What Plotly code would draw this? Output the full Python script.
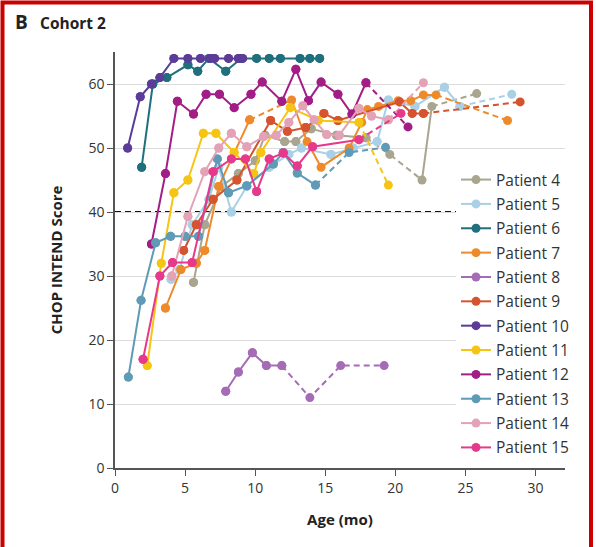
import plotly.graph_objects as go

# ---------------- data ----------------
patients = ["Patient 4", "Patient 5", "Patient 6", "Patient 7", "Patient 8", "Patient 9",
            "Patient 10", "Patient 11", "Patient 12", "Patient 13", "Patient 14", "Patient 15"]
colors = ["#a9a58f", "#a8d0e6", "#1f6f7d", "#ef8a2b", "#a56bb6", "#d5532f",
          "#5b3c98", "#f6c514", "#a21d86", "#5f9bb6", "#e4a2b6", "#e6398c"]

p4_x = [5.6, 6.4, 7.6, 8.8, 10.0, 10.7, 12.1, 12.9, 14.0, 15.8, 17.9, 19.6, 21.9, 22.6, 25.8]
p4_y = [29, 38, 44, 46, 48, 52, 51, 51, 53, 52, 51.6, 49, 45, 56.5, 58.5]
p4_dash = [10, 11, 13]

p5_x = [4.0, 4.6, 5.5, 6.7, 7.4, 8.3, 9.4, 11.0, 12.4, 13.3, 15.4, 17.0, 18.7, 19.5, 21.4, 23.5, 24.6, 28.3]
p5_y = [29.5, 31, 38, 42, 47, 40, 44, 47, 49, 50, 49, 50, 51, 57.5, 56.5, 59.5, 56.5, 58.4]
p5_dash = [16]

p6_x = [1.9, 2.7, 3.7, 5.2, 5.9, 6.7, 7.9, 9.0, 10.1, 11.0, 11.8, 13.2, 13.9, 14.6]
p6_y = [47, 60, 61, 63, 62, 64, 62, 64, 64, 64, 64, 64, 64, 64]
p6_dash = []

p7_x = [3.6, 4.7, 5.8, 6.4, 7.4, 9.6, 12.6, 13.7, 14.7, 16.7, 17.6, 18.0, 18.8, 20.2, 21.1, 22.0, 22.9, 28.0]
p7_y = [25, 31, 32, 34, 44, 54.4, 57.5, 51, 47, 50, 54, 56, 56.5, 57.4, 57.4, 58.3, 58.3, 54.3]
p7_dash = [5, 16]

p8_x = [7.9, 8.8, 9.8, 10.8, 11.9, 13.9, 16.1, 19.2]
p8_y = [12, 15, 18, 16, 16, 11, 16, 16]
p8_dash = [4, 5, 6]

p9_x = [4.9, 5.8, 7.0, 8.7, 11.1, 12.3, 13.6, 14.9, 15.9, 20.3, 21.2, 22.0, 28.9]
p9_y = [34, 38, 42, 45, 54.3, 52.6, 53.2, 55.4, 54.3, 57.2, 55.4, 55.4, 57.2]
p9_dash = [11]

p10_x = [0.9, 1.8, 2.6, 3.2, 4.2, 5.2, 6.1, 6.8, 7.1, 8.1, 8.8, 9.1]
p10_y = [50, 58, 60, 61, 64, 64, 64, 64, 64, 64, 64, 64]
p10_dash = []

p11_x = [2.3, 3.3, 4.2, 5.2, 6.3, 7.2, 8.5, 9.9, 10.4, 12.5, 14.5, 17.4, 19.5]
p11_y = [16, 32, 43, 45, 52.3, 52.3, 49.3, 46, 49.3, 56.3, 54.3, 54, 44.2]
p11_dash = [11]

p12_x = [2.6, 3.6, 4.45, 5.6, 6.5, 7.45, 8.5, 9.7, 10.5, 11.9, 12.9, 13.8, 14.7, 15.9, 16.9, 17.9, 20.9]
p12_y = [35, 46, 57.3, 55.3, 58.4, 58.4, 56.3, 58.4, 60.3, 57.3, 62.3, 57.4, 60.3, 58.4, 55.3, 60.2, 53.3]
p12_dash = [15]

p13_x = [0.95, 1.86, 2.9, 3.97, 5.0, 5.95, 7.3, 8.1, 9.4, 11.3, 12.0, 13.0, 14.3, 16.7, 19.3]
p13_y = [14.2, 26.2, 35.2, 36.2, 36.2, 36.2, 48.3, 43, 44.1, 47.5, 49.3, 46.1, 44.2, 49.3, 50.1]
p13_dash = [12, 13]

p14_x = [4.05, 5.2, 6.4, 7.4, 8.3, 9.4, 10.6, 11.5, 12.4, 13.4, 14.2, 15.1, 16.0, 17.4, 18.3, 19.5, 22.0]
p14_y = [30, 39.3, 46.3, 50, 52.3, 50.2, 51.8, 52, 54, 56.6, 54.4, 52.1, 52, 56.2, 55, 54.4, 60.2]
p14_dash = [15]

p15_x = [2.0, 3.2, 4.1, 5.5, 7.0, 8.3, 9.3, 10.1, 11.0, 12.0, 13.0, 14.1, 17.4, 20.4]
p15_y = [17, 30, 32.1, 32.1, 46.3, 48.3, 48.3, 43.2, 48.3, 49.2, 47.2, 50.2, 51.3, 55.4]
p15_dash = [12]

series_x = [p4_x, p5_x, p6_x, p7_x, p8_x, p9_x, p10_x, p11_x, p12_x, p13_x, p14_x, p15_x]
series_y = [p4_y, p5_y, p6_y, p7_y, p8_y, p9_y, p10_y, p11_y, p12_y, p13_y, p14_y, p15_y]
series_dash = [p4_dash, p5_dash, p6_dash, p7_dash, p8_dash, p9_dash, p10_dash, p11_dash,
               p12_dash, p13_dash, p14_dash, p15_dash]

x_ticks = [0, 5, 10, 15, 20, 25, 30]
y_ticks = [0, 10, 20, 30, 40, 50, 60]
threshold = 40

FONT = "'Open Sans', Lato, sans-serif"

fig = go.Figure()

for name, col, xs, ys, dashed in zip(patients, colors, series_x, series_y, series_dash):
    runs = []
    n = len(xs)
    i = 0
    while i < n - 1:
        style = "dash" if i in dashed else "solid"
        j = i
        while j < n - 1 and (("dash" if j in dashed else "solid") == style):
            j += 1
        runs.append((i, j, style))
        i = j
    first_legend = True
    for (a, b, style) in runs:
        show = first_legend and style == "solid"
        fig.add_trace(go.Scatter(
            x=xs[a:b + 1], y=ys[a:b + 1],
            mode="lines+markers" if show else "lines",
            line=dict(color=col, width=2, dash="6px,4px" if style == "dash" else "solid"),
            marker=dict(color=col, size=9),
            name=name, legendgroup=name, showlegend=show,
            hoverinfo="skip"))
        if show:
            first_legend = False
    fig.add_trace(go.Scatter(
        x=xs, y=ys, mode="markers",
        marker=dict(color=col, size=9),
        name=name, legendgroup=name, showlegend=False))

fig.add_shape(type="line", xref="x", yref="y", x0=0, x1=32.1, y0=threshold, y1=threshold,
              line=dict(color="#111111", width=2, dash="6px,4px"), layer="below")

# red frame
fig.add_shape(type="rect", xref="paper", yref="paper",
              x0=(2.5 - 115) / 450, x1=(591 - 115) / 450,
              y0=(468 - 600) / 416, y1=(468 - 2.5) / 416,
              line=dict(color="#cc0000", width=4), fillcolor="rgba(0,0,0,0)")

fig.add_annotation(xref="paper", yref="paper", x=(13 - 115) / 450, y=(468 - 22) / 416,
                   xanchor="left", yanchor="middle", showarrow=False,
                   text="<b>B</b>", font=dict(family=FONT, size=19, color="#222222"))
fig.add_annotation(xref="paper", yref="paper", x=(38 - 115) / 450, y=(468 - 23) / 416,
                   xanchor="left", yanchor="middle", showarrow=False,
                   text="<b>Cohort 2</b>", font=dict(family=FONT, size=15.5, color="#222222"))

fig.update_layout(
    width=596, height=547,
    margin=dict(l=115, r=31, t=52, b=79),
    paper_bgcolor="white", plot_bgcolor="white",
    font=dict(family=FONT, size=14, color="#333333"),
    showlegend=True,
    legend=dict(x=(456 - 115) / 450, y=(468 - 163) / 416, xanchor="left", yanchor="top",
                bgcolor="white", font=dict(family=FONT, size=15.5, color="#333333"),
                tracegroupgap=1.2, borderwidth=0),
    xaxis=dict(range=[0, 32.1], tickvals=x_ticks, ticks="outside", ticklen=6, tickwidth=1.2,
               tickcolor="#555555", showline=True, linecolor="#555555", linewidth=1.5,
               showgrid=False, zeroline=False,
               title=dict(text="<b>Age (mo)</b>", font=dict(family=FONT, size=15, color="#222222"),
                          standoff=19),
               tickfont=dict(size=14, color="#333333")),
    yaxis=dict(range=[0, 65], tickvals=y_ticks, ticks="outside", ticklen=6, tickwidth=1.2,
               tickcolor="#555555", showline=True, linecolor="#555555", linewidth=1.5,
               showgrid=True, gridcolor="#dcdcdc", gridwidth=1, zeroline=False,
               title=dict(text="<b>CHOP INTEND Score</b>",
                          font=dict(family=FONT, size=15, color="#222222"), standoff=22),
               tickfont=dict(size=14, color="#333333")),
)

fig.write_html("out.html", config={"displayModeBar": False},
               post_script="document.body.style.margin='0';document.body.style.padding='0';")
